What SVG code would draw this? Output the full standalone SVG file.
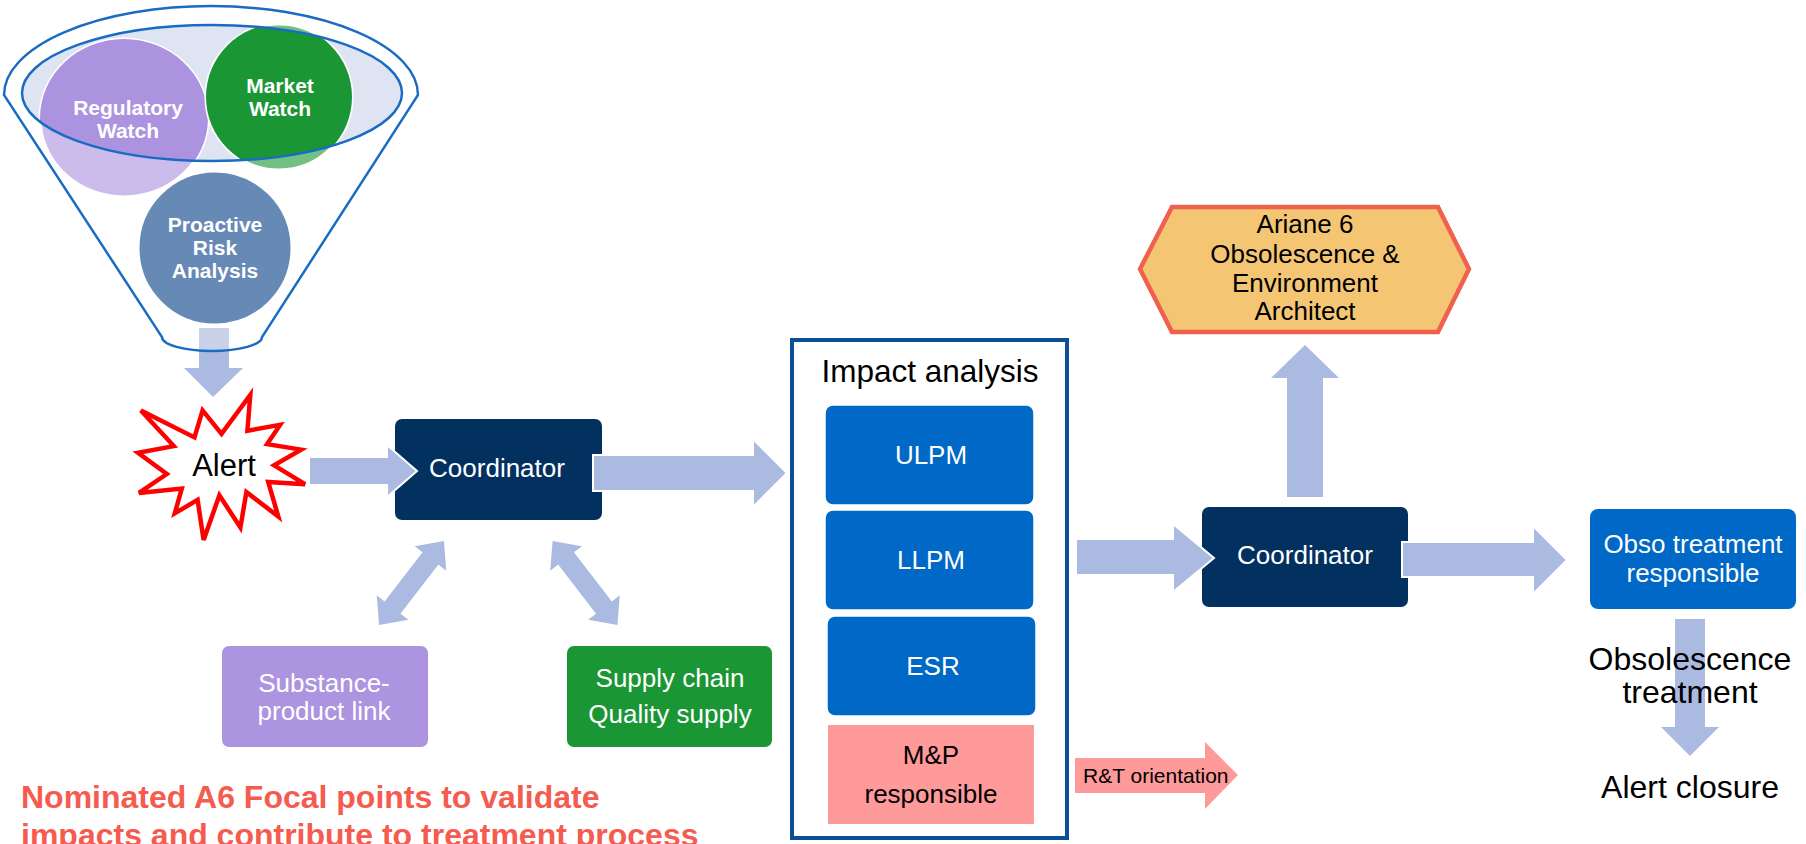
<svg xmlns="http://www.w3.org/2000/svg" width="1806" height="844" viewBox="0 0 1806 844">
<style>
.arr{fill:#abbae0;stroke:#fff;stroke-width:2}
.arrn{fill:#abbae0}
.t{font-family:"Liberation Sans",Arial,sans-serif}
.tw{font-family:"Liberation Sans",Arial,sans-serif;fill:#fff;text-anchor:middle}
.tb{font-family:"Liberation Sans",Arial,sans-serif;fill:#000;text-anchor:middle}
.fb{font-family:"Liberation Sans",Arial,sans-serif;fill:#fff;text-anchor:middle;font-weight:bold;font-size:21px}
.nav{fill:#03315f}
.blu{fill:#0068c6;stroke:#fff;stroke-width:1.5}
</style>
<defs>
<clipPath id="inner"><ellipse cx="212" cy="93" rx="190" ry="68"/></clipPath>
</defs>
<rect width="1806" height="844" fill="#fff"/>

<g id="connectors">
<!-- funnel to alert -->
<rect x="199" y="328" width="30" height="23" fill="#cad2ea"/>
<polygon class="arrn" points="199,351 229,351 229,368 243,368 213,397 184,368 199,368"/>
<!-- bidirectional -->
<polygon class="arrn" transform="translate(411.5,583) rotate(-52.3)" points="-53,0 -31,-20 -31,-10 31,-10 31,-20 53,0 31,20 31,10 -31,10 -31,20"/>
<polygon class="arrn" transform="translate(585,583) rotate(52.3)" points="-53,0 -31,-20 -31,-10 31,-10 31,-20 53,0 31,20 31,10 -31,10 -31,20"/>
<!-- up to Ariane -->
<polygon class="arrn" points="1287,497 1287,378 1271,378 1305,345 1339,378 1323,378 1323,497"/>
<!-- down from Obso -->
<polygon class="arrn" points="1675,619 1705,619 1705,727 1719,727 1690,756 1661,727 1675,727"/>
</g>

<g id="funnel">
<ellipse cx="212" cy="93" rx="190" ry="68" fill="#dfe4f2"/>
<path d="M4,95 A207,89 0 0 1 418,95 L262,337 A50,14 0 0 1 162,337 Z" fill="none" stroke="#1a6bc4" stroke-width="2.5"/>
</g>

<g id="regulatory-watch">
<ellipse cx="124" cy="118" rx="84" ry="79" fill="#cbbcec" stroke="#fff" stroke-width="3"/>
<ellipse cx="124" cy="118" rx="84" ry="79" fill="#ac93e0" clip-path="url(#inner)"/>
<text class="fb" x="128" y="115">Regulatory</text>
<text class="fb" x="128" y="138">Watch</text>
</g>
<g id="market-watch">
<circle cx="279" cy="97" r="73" fill="#72c084" stroke="#fff" stroke-width="3"/>
<circle cx="279" cy="97" r="73" fill="#1a9634" clip-path="url(#inner)"/>
<text class="fb" x="280" y="93">Market</text>
<text class="fb" x="280" y="116">Watch</text>
</g>
<g id="proactive-risk">
<circle cx="215" cy="248" r="77" fill="#6789b6" stroke="#fff" stroke-width="3"/>
<text class="fb" x="215" y="232">Proactive</text>
<text class="fb" x="215" y="255">Risk</text>
<text class="fb" x="215" y="278">Analysis</text>
</g>
<ellipse cx="212" cy="93" rx="190" ry="68" fill="none" stroke="#1a6bc4" stroke-width="2.5"/>

<g id="alert">
<polygon points="221.5,433.9 250.3,395 247.4,430.7 280.1,424.9 267.1,444.1 301.1,449.6 274.1,465.3 305,484.2 268.2,481.9 278.3,516.5 246.4,492.1 240.4,527.5 219.4,495.3 203.6,540 197.6,499.9 174.8,513.3 181.8,488.6 139,492.9 166.8,474 138,452.8 173.8,446.1 140.9,410.4 194.5,437.4 202.6,410.4" fill="#fff" stroke="#ff0000" stroke-width="4.5" stroke-linejoin="miter"/>
<text class="tb" x="224" y="476" font-size="31">Alert</text>
</g>

<g id="coordinator-1">
<rect class="nav" x="395" y="419" width="207" height="101" rx="7"/>
<text class="tw" x="497" y="477" font-size="26">Coordinator</text>
</g>

<g id="substance">
<rect x="222" y="646" width="206" height="101" rx="7" fill="#ad94e0"/>
<text class="tw" x="324" y="692" font-size="26">Substance-</text>
<text class="tw" x="324" y="720" font-size="26">product link</text>
</g>
<g id="supply">
<rect x="567" y="646" width="205" height="101" rx="7" fill="#1a9634"/>
<text class="tw" x="670" y="687" font-size="26">Supply chain</text>
<text class="tw" x="670" y="723" font-size="26">Quality supply</text>
</g>

<g id="impact-analysis">
<rect x="792" y="340" width="275" height="498" fill="#fff" stroke="#0b5096" stroke-width="4"/>
<text class="tb" x="930" y="382" font-size="31.5">Impact analysis</text>
</g>
<g id="ulpm">
<rect class="blu" x="825" y="405" width="209" height="100" rx="8"/>
<text class="tw" x="931" y="464" font-size="26">ULPM</text>
</g>
<g id="llpm">
<rect class="blu" x="825" y="510" width="209" height="100" rx="8"/>
<text class="tw" x="931" y="569" font-size="26">LLPM</text>
</g>
<g id="esr">
<rect class="blu" x="827" y="616" width="209" height="100" rx="8"/>
<text class="tw" x="933" y="675" font-size="26">ESR</text>
</g>
<g id="mp">
<rect x="828" y="725" width="206" height="99" fill="#ff9a9a"/>
<text class="tb" x="931" y="764" font-size="26">M&amp;P</text>
<text class="tb" x="931" y="803" font-size="26">responsible</text>
</g>

<g id="ariane">
<polygon points="1140,269 1172,207 1438,207 1469,269 1438,332 1172,332" fill="#f4c674" stroke="#f0604f" stroke-width="4.5"/>
<text class="tb" x="1305" y="233" font-size="26">Ariane 6</text>
<text class="tb" x="1305" y="263" font-size="26">Obsolescence &amp;</text>
<text class="tb" x="1305" y="292" font-size="26">Environment</text>
<text class="tb" x="1305" y="320" font-size="26">Architect</text>
</g>

<g id="coordinator-2">
<rect class="nav" x="1202" y="507" width="206" height="100" rx="7"/>
<text class="tw" x="1305" y="564" font-size="26">Coordinator</text>
</g>

<g id="obso">
<rect x="1590" y="509" width="206" height="100" rx="8" fill="#0068c6"/>
<text class="tw" x="1693" y="553" font-size="26">Obso treatment</text>
<text class="tw" x="1693" y="582" font-size="26">responsible</text>
</g>

<g id="connectors-main">
<polygon class="arr" points="309,457 387,457 387,445 417,471 387,497 387,485 309,485"/>
<polygon class="arr" points="593,455 753,455 753,439 787,473 753,507 753,491 593,491"/>
<polygon class="arr" points="1076,539 1173,539 1173,524 1214,558 1173,592 1173,575 1076,575"/>
<polygon class="arr" points="1402,542 1533,542 1533,526 1567,560 1533,594 1533,577 1402,577"/>
<polygon points="1075,758 1205,758 1205,742 1238,775 1205,809 1205,793 1075,793" fill="#ff9a9a"/>
<text class="t" x="1083" y="783" font-size="21" fill="#000">R&amp;T orientation</text>
</g>

<g id="labels">
<text class="tb" x="1690" y="670" font-size="32">Obsolescence</text>
<text class="tb" x="1690" y="703" font-size="32">treatment</text>
<text class="tb" x="1690" y="798" font-size="32">Alert closure</text>
<text class="t" x="21" y="808" font-size="32" font-weight="bold" fill="#f55b4f">Nominated A6 Focal points to validate</text>
<text class="t" x="21" y="846" font-size="32" font-weight="bold" fill="#f55b4f">impacts and contribute to treatment process</text>
</g>
</svg>
